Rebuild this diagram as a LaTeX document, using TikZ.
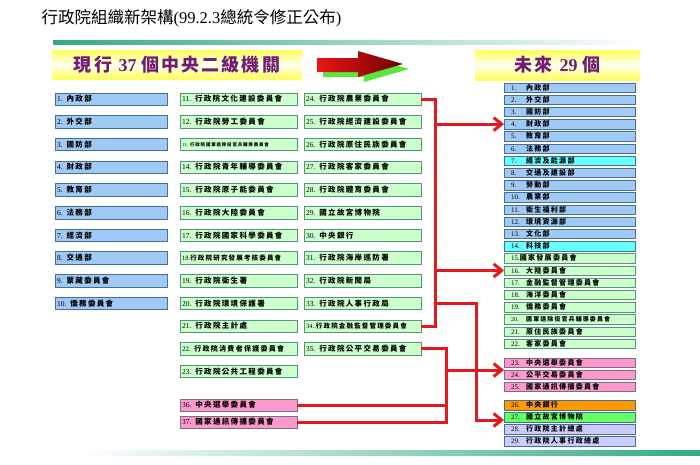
\documentclass[tikz,border=0pt]{standalone}
\usepackage{fontspec}
\setmainfont{Liberation Serif}
\newfontfamily\cjk{Noto Sans CJK TC}[LetterSpace=18]
\newfontfamily\cjkb{Noto Sans CJK TC}[LetterSpace=12]
\newfontfamily\cjkt{Noto Sans CJK TC}
\newcommand{\zh}[1]{{\cjk\bfseries #1}}
\newcommand{\nr}[1]{\makebox[15pt][l]{#1}}
\usetikzlibrary{arrows.meta}
\definecolor{blubox}{RGB}{160,202,245}
\definecolor{bluedge}{RGB}{70,110,150}
\definecolor{grnbox}{RGB}{204,255,204}
\definecolor{grnedge}{RGB}{80,150,120}
\definecolor{pnkbox}{RGB}{255,153,204}
\definecolor{pnkedge}{RGB}{120,110,140}
\definecolor{cyanbox}{RGB}{102,255,255}
\definecolor{orgbox}{RGB}{255,153,0}
\definecolor{brightgrn}{RGB}{102,255,102}
\definecolor{lavbox}{RGB}{204,204,255}
\definecolor{linkred}{RGB}{228,24,30}
\definecolor{headpurple}{RGB}{112,28,112}
\definecolor{bannery}{RGB}{255,255,90}
\definecolor{lineteal}{RGB}{50,170,130}
\definecolor{bigred}{RGB}{235,20,20}
\definecolor{darkred}{RGB}{110,0,0}
\definecolor{shadowgrn}{RGB}{90,230,60}

\begin{document}
\begin{tikzpicture}[x=1pt,y=-1pt,>={Straight Barb[length=8pt,width=13pt]},
    cellbox/.style={anchor=west,inner xsep=2pt,inner ysep=0pt,minimum height=12.5pt,align=left,font=\fontsize{7.5}{9}\selectfont},
    oldblue/.style={cellbox,draw=bluedge,fill=blubox,text width=108pt},
    oldgreen/.style={cellbox,draw=grnedge,fill=grnbox,text width=113pt},
    oldpink/.style={cellbox,draw=pnkedge,fill=pnkbox,text width=113pt},
    newbox/.style={anchor=west,draw=bluedge,fill=#1,inner xsep=7pt,inner ysep=0pt,minimum height=9.5pt,text width=117pt,align=left,font=\fontsize{7}{8}\selectfont},
    newgreen/.style={newbox=grnbox,draw=grnedge},
    banner/.style={top color=bannery,bottom color=bannery,middle color=bannery!8,text=headpurple,font=\fontsize{18}{20}\selectfont},
    redlink/.style={draw=linkred,line width=3pt}]
    \useasboundingbox (0,0) rectangle (700,464);
    % title and rules
    \node[anchor=west,font=\fontsize{16.5}{18}\selectfont] (title) at (38,18) {{\cjkt 行政院組織新架構}(99.2.3{\cjkt 總統令修正公布})};
    \shade[left color=lineteal,right color=white] (53,40) rectangle (640,44);
    \shade[left color=white,right color=lineteal] (80,450) rectangle (700,455);
    % headers
    \node[banner,minimum width=250pt,minimum height=29pt] (oldhead) at (177,64.5) {{\cjkb\bfseries 現行} \textbf{37} {\cjkb\bfseries 個中央二級機關}};
    \node[banner,minimum width=165pt,minimum height=30pt] (newhead) at (557.5,65) {{\cjkb\bfseries 未來} \textbf{29} {\cjkb\bfseries 個}};
    \fill[shadowgrn,shift={(6,5)}] (317,58) -- (358,58) -- (358,51) -- (403,64) -- (358,77) -- (358,72) -- (317,72) -- cycle;
    \shade[left color=bigred,right color=darkred] (317,58) -- (358,58) -- (358,51) -- (403,64) -- (358,77) -- (358,72) -- (317,72) -- cycle;
    % current 37
    \node[oldblue] (o1) at (55,99) {1. \zh{內政部}};
    \node[oldblue] (o2) at (55,121.7) {2. \zh{外交部}};
    \node[oldblue] (o3) at (55,144.4) {3. \zh{國防部}};
    \node[oldblue] (o4) at (55,167.1) {4. \zh{財政部}};
    \node[oldblue] (o5) at (55,189.8) {5. \zh{教育部}};
    \node[oldblue] (o6) at (55,212.5) {6. \zh{法務部}};
    \node[oldblue] (o7) at (55,235.2) {7. \zh{經濟部}};
    \node[oldblue] (o8) at (55,257.9) {8. \zh{交通部}};
    \node[oldblue] (o9) at (55,280.6) {9. \zh{蒙藏委員會}};
    \node[oldblue] (o10) at (55,303.3) {10. \zh{僑務委員會}};
    \node[oldgreen] (o11) at (180,99) {11. \zh{行政院文化建設委員會}};
    \node[oldgreen] (o12) at (180,121.7) {12. \zh{行政院勞工委員會}};
    \node[oldgreen,font=\fontsize{4.5}{5}\selectfont] (o13) at (180,144.4) {13. \zh{行政院國軍退除役官兵輔導委員會}};
    \node[oldgreen] (o14) at (180,167.1) {14. \zh{行政院青年輔導委員會}};
    \node[oldgreen] (o15) at (180,189.8) {15. \zh{行政院原子能委員會}};
    \node[oldgreen] (o16) at (180,212.5) {16. \zh{行政院大陸委員會}};
    \node[oldgreen] (o17) at (180,235.2) {17. \zh{行政院國家科學委員會}};
    \node[oldgreen,font=\fontsize{6.5}{8}\selectfont] (o18) at (180,257.9) {18.\zh{行政院研究發展考核委員會}};
    \node[oldgreen] (o19) at (180,280.6) {19. \zh{行政院衛生署}};
    \node[oldgreen] (o20) at (180,303.3) {20. \zh{行政院環境保護署}};
    \node[oldgreen] (o21) at (180,326) {21. \zh{行政院主計處}};
    \node[oldgreen,font=\fontsize{7}{8}\selectfont] (o22) at (180,348.7) {22. \zh{行政院消費者保護委員會}};
    \node[oldgreen] (o23) at (180,371.4) {23. \zh{行政院公共工程委員會}};
    \node[oldgreen] (o24) at (304,99) {24. \zh{行政院農業委員會}};
    \node[oldgreen] (o25) at (304,121.7) {25. \zh{行政院經濟建設委員會}};
    \node[oldgreen] (o26) at (304,144.4) {26. \zh{行政院原住民族委員會}};
    \node[oldgreen] (o27) at (304,167.1) {27. \zh{行政院客家委員會}};
    \node[oldgreen] (o28) at (304,189.8) {28. \zh{行政院體育委員會}};
    \node[oldgreen] (o29) at (304,212.5) {29. \zh{國立故宮博物院}};
    \node[oldgreen] (o30) at (304,235.2) {30. \zh{中央銀行}};
    \node[oldgreen] (o31) at (304,257.9) {31. \zh{行政院海岸巡防署}};
    \node[oldgreen] (o32) at (304,280.6) {32. \zh{行政院新聞局}};
    \node[oldgreen] (o33) at (304,303.3) {33. \zh{行政院人事行政局}};
    \node[oldgreen,font=\fontsize{6.5}{8}\selectfont] (o34) at (304,326) {34..\zh{行政院金融監督管理委員會}};
    \node[oldgreen] (o35) at (304,348.7) {35. \zh{行政院公平交易委員會}};
    \node[oldpink] (o36) at (180,405) {36. \zh{中央選舉委員會}};
    \node[oldpink] (o37) at (180,422) {37. \zh{國家通訊傳播委員會}};
    % future 29
    \node[newbox=blubox] (n1) at (504,87.5) {\nr{1.}\zh{內政部}};
    \node[newbox=blubox] (n2) at (504,99.7) {\nr{2.}\zh{外交部}};
    \node[newbox=blubox] (n3) at (504,111.9) {\nr{3.}\zh{國防部}};
    \node[newbox=blubox] (n4) at (504,124.1) {\nr{4.}\zh{財政部}};
    \node[newbox=blubox] (n5) at (504,136.3) {\nr{5.}\zh{教育部}};
    \node[newbox=blubox] (n6) at (504,148.5) {\nr{6.}\zh{法務部}};
    \node[newbox=cyanbox] (n7) at (504,160.7) {\nr{7.}\zh{經濟及能源部}};
    \node[newbox=blubox] (n8) at (504,172.9) {\nr{8.}\zh{交通及建設部}};
    \node[newbox=blubox] (n9) at (504,185.1) {\nr{9.}\zh{勞動部}};
    \node[newbox=blubox] (n10) at (504,197.3) {\nr{10.}\zh{農業部}};
    \node[newbox=blubox] (n11) at (504,209.5) {\nr{11.}\zh{衛生福利部}};
    \node[newbox=blubox] (n12) at (504,221.7) {\nr{12.}\zh{環境資源部}};
    \node[newbox=blubox] (n13) at (504,233.9) {\nr{13.}\zh{文化部}};
    \node[newbox=cyanbox] (n14) at (504,246.1) {\nr{14.}\zh{科技部}};
    \node[newgreen] (n15) at (504,258.3) {15.\zh{國家發展委員會}};
    \node[newgreen] (n16) at (504,270.5) {\nr{16.}\zh{大陸委員會}};
    \node[newgreen] (n17) at (504,282.7) {\nr{17.}\zh{金融監督管理委員會}};
    \node[newgreen] (n18) at (504,294.9) {\nr{18.}\zh{海洋委員會}};
    \node[newgreen] (n19) at (504,307.1) {\nr{19.}\zh{僑務委員會}};
    \node[newgreen,font=\fontsize{6}{7}\selectfont] (n20) at (504,319.3) {\nr{20.}\zh{國軍退除役官兵輔導委員會}};
    \node[newgreen] (n21) at (504,331.5) {\nr{21.}\zh{原住民族委員會}};
    \node[newgreen] (n22) at (504,343.7) {\nr{22.}\zh{客家委員會}};
    \node[newbox=pnkbox,draw=pnkedge] (n23) at (504,362.5) {\nr{23.}\zh{中央選舉委員會}};
    \node[newbox=pnkbox,draw=pnkedge] (n24) at (504,374.5) {\nr{24.}\zh{公平交易委員會}};
    \node[newbox=pnkbox,draw=pnkedge] (n25) at (504,386.5) {\nr{25.}\zh{國家通訊傳播委員會}};
    \node[newbox=orgbox] (n26) at (504,405) {\nr{26.}\zh{中央銀行}};
    \node[newbox=brightgrn] (n27) at (504,417) {\nr{27.}\zh{國立故宮博物院}};
    \node[newbox=lavbox] (n28) at (504,429) {\nr{28.}\zh{行政院主計總處}};
    \node[newbox=lavbox] (n29) at (504,441) {\nr{29.}\zh{行政院人事行政總處}};
    % red connectors
    \coordinate (jA) at (435,0);
    \coordinate (jB) at (476,0);
    \coordinate (jC) at (446,0);
    \coordinate (t24) at ([yshift=4.5pt]n24.west);
    \coordinate (t27) at ([yshift=-3pt]n27.west);
    \draw[redlink] (o24.east) -- (jA |- o24.east) -- (jA |- o34.east) -- (o34.east);
    \draw[redlink,->] (jA |- n4.west) -- (n4.west);
    \draw[redlink,->] (jA |- n16.west) -- (n16.west);
    \draw[redlink,->] (jA |- o33.east) -- (jB |- o33.east) |- (t27);
    \draw[redlink] (o35.east) -- (jC |- o35.east) -- (jC |- o37.east) -- (o37.east);
    \draw[redlink] (o36.east) -- (jC |- o36.east);
    \draw[redlink,->] (jC |- t24) -- (t24);
\end{tikzpicture}
\end{document}
